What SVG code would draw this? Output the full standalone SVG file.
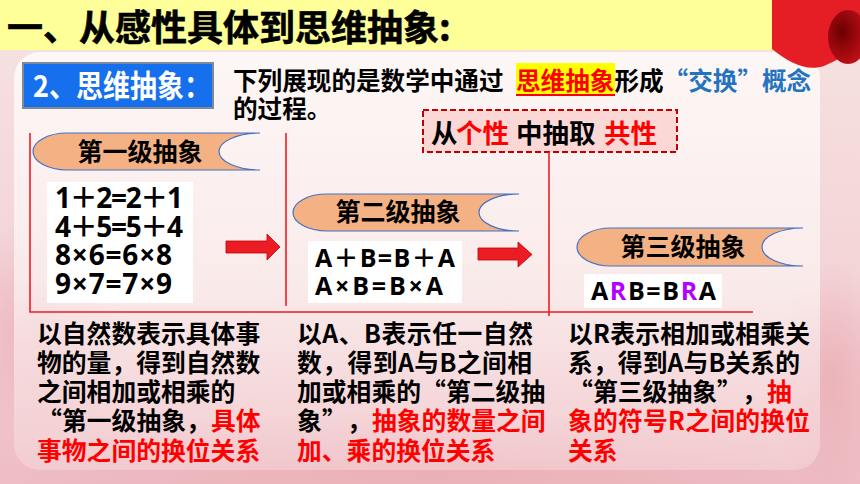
<svg xmlns="http://www.w3.org/2000/svg" width="860" height="484" viewBox="0 0 860 484">
<defs>
<linearGradient id="bgG" x1="0" y1="0" x2="0" y2="1">
<stop offset="0" stop-color="#f7e3e2"/>
<stop offset="0.6" stop-color="#f3d3d6"/>
<stop offset="1" stop-color="#eebcc3"/>
</linearGradient>
<linearGradient id="panelG" x1="0" y1="0" x2="0" y2="1">
<stop offset="0" stop-color="#fdf8f7" stop-opacity="0.95"/>
<stop offset="0.55" stop-color="#fbefee" stop-opacity="0.85"/>
<stop offset="1" stop-color="#f6dadd" stop-opacity="0.5"/>
</linearGradient>
<radialGradient id="blob" cx="0.5" cy="0.5" r="0.5">
<stop offset="0" stop-color="#e9a9b1" stop-opacity="0.7"/>
<stop offset="1" stop-color="#e9a9b1" stop-opacity="0"/>
</radialGradient>
<radialGradient id="darkR" cx="0.35" cy="0.4" r="0.7">
<stop offset="0" stop-color="#6a0000"/>
<stop offset="1" stop-color="#c8101a"/>
</radialGradient>
<style>
.cjk{font-family:"Noto Sans CJK SC","Noto Sans CJK TC",sans-serif;font-weight:700}
.eq{font-family:"Open Sans","Noto Sans CJK SC",sans-serif;font-weight:700;fill:#000}
.body{font-family:"Noto Sans CJK SC",sans-serif;font-weight:700;font-size:24.8px;fill:#000}
.red{fill:#ff0000}
.banner{fill:#f4b183;stroke:#4472c4;stroke-width:1.2}
.bt{font-family:"Noto Sans CJK SC",sans-serif;font-weight:700;font-size:25px;fill:#000;text-anchor:middle}
.eqbox{fill:#ffffff}
.rl{stroke:#f01c24;stroke-width:1.6;fill:none}
.arrow{fill:#ec1c24;stroke:#c00000;stroke-width:0.8}
</style>
</defs>

<!-- background -->
<rect x="0" y="0" width="860" height="484" fill="url(#bgG)"/>
<ellipse cx="40" cy="330" rx="90" ry="110" fill="url(#blob)"/>
<ellipse cx="430" cy="470" rx="420" ry="60" fill="url(#blob)"/>
<ellipse cx="830" cy="380" rx="60" ry="120" fill="url(#blob)"/>
<rect x="14" y="52" width="806" height="418" rx="26" fill="url(#panelG)"/>

<!-- top bar -->
<rect x="0" y="0" width="772" height="50" fill="#ffff99"/>
<path d="M772,0 H860 V46 C850,52 838,60 824,66 C806,72 788,62 772,49 Z" fill="#e51d25"/>
<ellipse cx="848" cy="37" rx="20" ry="27" fill="url(#darkR)"/>
<text x="7" y="41" class="cjk" font-size="36" fill="#000" stroke="#000" stroke-width="0.6">一、从感性具体到思维抽象:</text>

<!-- section label -->
<g id="section-label">
<rect x="23" y="63" width="190" height="45" fill="#1670ee" stroke="#7f8a99" stroke-width="2"/>
<text class="cjk" font-size="27" fill="#ffffff" transform="translate(33,97) scale(1,1.12)">2、思维抽象：</text>
</g>

<g id="intro">
<rect x="516" y="63" width="99" height="33" fill="#ffff00"/>
<line x1="516" y1="95" x2="615" y2="95" stroke="#ff0000" stroke-width="2"/>
<text y="90" class="cjk" font-size="24.6" fill="#000"><tspan x="233">下列展现的是数学中通过</tspan><tspan x="516" fill="#ff0000">思维抽象</tspan><tspan>形成</tspan><tspan fill="#2473c0">“交换”概念</tspan><tspan x="233" y="118" fill="#000">的过程。</tspan></text>
</g>

<g id="common-box">
<rect x="423" y="110" width="254" height="42" fill="#fbd7d6" stroke="#c00000" stroke-width="2" stroke-dasharray="6 3"/>
<text y="143" class="cjk" font-size="26.5" fill="#000"><tspan x="431">从</tspan><tspan x="456" fill="#ff0000">个性</tspan><tspan x="516">中抽取</tspan><tspan x="604" fill="#ff0000">共性</tspan></text>
</g>

<!-- connectors -->
<g id="connectors">
<polyline class="rl" points="30,133 30,312 753,312"/>
<line class="rl" x1="286" y1="133" x2="286" y2="306"/>
<line class="rl" x1="549" y1="152" x2="549" y2="316"/>
<polygon class="arrow" points="226,241 267,241 267,234 280,247 267,260 267,253 226,253"/>
<polygon class="arrow" points="478,248 518,248 518,242 532,254.5 518,267 518,260 478,260"/>
</g>

<g id="level1">
<path class="banner" d="M260,133 H67 A34,18.5 0 0 0 67,170 H260 A41,18.5 0 0 1 260,133 Z"/>
<text x="140" y="161" class="bt">第一级抽象</text>
<rect class="eqbox" x="47" y="182" width="146" height="121"/>
<text class="eq" font-size="28"><tspan x="55" y="208" textLength="128" lengthAdjust="spacing">1＋2=2＋1</tspan><tspan x="55" y="237" textLength="128" lengthAdjust="spacing">4＋5=5＋4</tspan><tspan x="55" y="265" textLength="117" lengthAdjust="spacing">8×6=6×8</tspan><tspan x="55" y="294" textLength="117" lengthAdjust="spacing">9×7=7×9</tspan></text>
</g>

<g id="level2">
<path class="banner" d="M519,194 H327 A34,18.5 0 0 0 327,231 H519 A40,18.5 0 0 1 519,194 Z"/>
<text x="398" y="221" class="bt">第二级抽象</text>
<rect class="eqbox" x="308" y="241" width="154" height="62"/>
<text class="eq" font-size="25"><tspan x="315" y="267" textLength="140" lengthAdjust="spacing">A＋B=B＋A</tspan><tspan x="315" y="295" textLength="128" lengthAdjust="spacing">A×B=B×A</tspan></text>
</g>

<g id="level3">
<path class="banner" d="M803,228 H611 A34,19 0 0 0 611,266 H803 A41,19 0 0 1 803,228 Z"/>
<text x="683" y="256" class="bt">第三级抽象</text>
<rect class="eqbox" x="584" y="274" width="138" height="34"/>
<text class="eq" font-size="25" x="591" y="300" textLength="125" lengthAdjust="spacing">A<tspan fill="#b400ff">R</tspan>B=B<tspan fill="#b400ff">R</tspan>A</text>
</g>

<g id="desc1">
<text class="body"><tspan x="37" y="343">以自然数表示具体事</tspan><tspan x="37" y="372">物的量，得到自然数</tspan><tspan x="37" y="401">之间相加或相乘的</tspan><tspan x="37" y="430">“</tspan><tspan x="62" y="430">第一级抽象，</tspan><tspan x="211" y="430" class="red">具体</tspan><tspan x="37" y="460" class="red">事物之间的换位关系</tspan></text>
</g>

<g id="desc2">
<text class="body"><tspan x="297" y="343" textLength="236" lengthAdjust="spacing">以A、B表示任一自然</tspan><tspan x="297" y="372" textLength="235" lengthAdjust="spacing">数，得到A与B之间相</tspan><tspan x="297" y="401">加或相乘的</tspan><tspan x="421" y="401">“</tspan><tspan x="446" y="401">第二级抽</tspan><tspan x="297" y="430">象</tspan><tspan x="322" y="430">”</tspan><tspan x="347" y="430">，</tspan><tspan x="372" y="430" class="red">抽象的数量之间</tspan><tspan x="297" y="460" class="red">加、乘的换位关系</tspan></text>
</g>

<g id="desc3">
<text class="body"><tspan x="568" y="343" textLength="242" lengthAdjust="spacing">以R表示相加或相乘关</tspan><tspan x="568" y="372" textLength="232" lengthAdjust="spacing">系，得到A与B关系的</tspan><tspan x="568" y="401">“</tspan><tspan x="593" y="401">第三级抽象</tspan><tspan x="717" y="401">”</tspan><tspan x="742" y="401">，</tspan><tspan x="767" y="401" class="red">抽</tspan><tspan x="568" y="430" class="red" textLength="242" lengthAdjust="spacing">象的符号R之间的换位</tspan><tspan x="568" y="460" class="red">关系</tspan></text>
</g>
</svg>
